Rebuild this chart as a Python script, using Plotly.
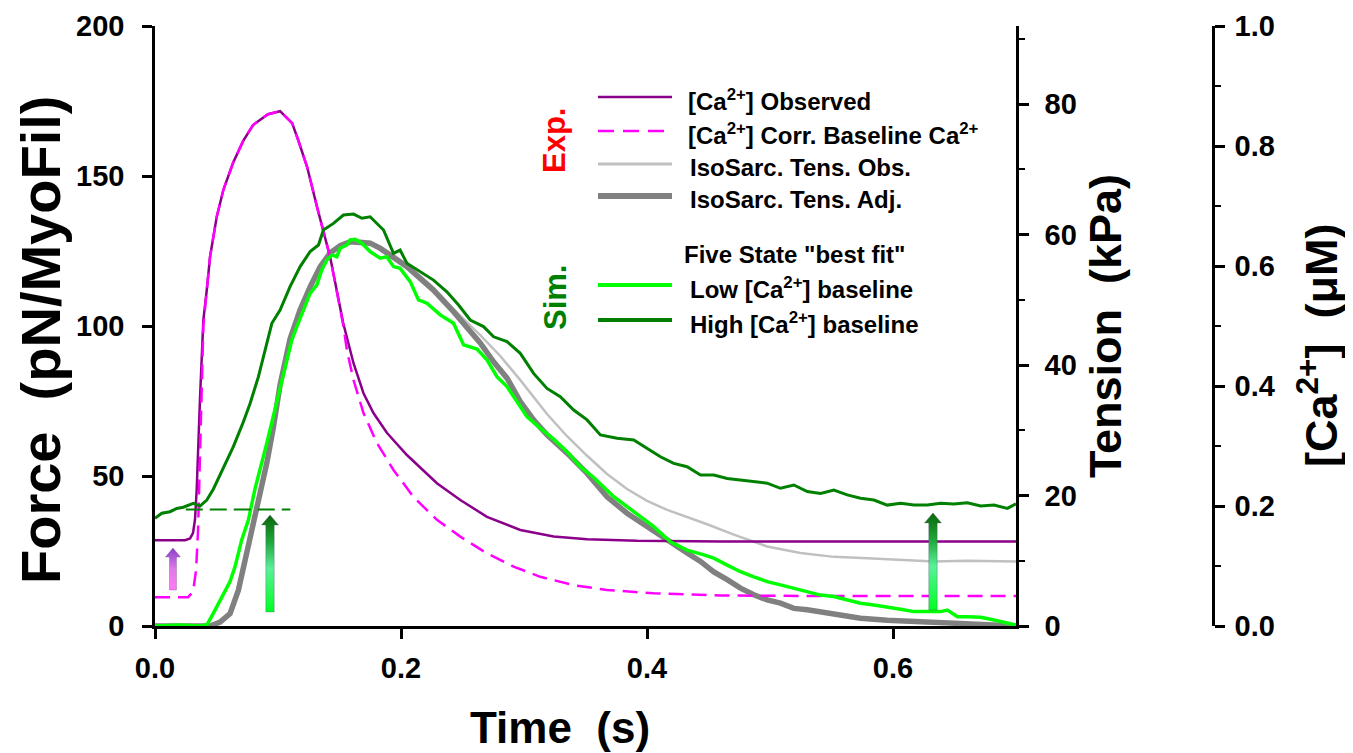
import plotly.graph_objects as go

# ---------------- data ----------------
# [Ca2+] observed (uM)
t_ca_obs = [0, 0.0244, 0.0285, 0.0309, 0.0325, 0.0339, 0.0366, 0.0393, 0.0421, 0.0448,
            0.0502, 0.0556, 0.0635, 0.0716, 0.0797, 0.0919, 0.1017, 0.1115, 0.1164, 0.1237,
            0.1318, 0.1424, 0.153, 0.1614, 0.1695, 0.1776, 0.1885, 0.2048, 0.2292, 0.2482,
            0.2699, 0.297, 0.3241, 0.3513, 0.3919, 0.4597, 0.7]
ca_obs = [0.143, 0.143, 0.146, 0.155, 0.177, 0.227, 0.38, 0.51, 0.56, 0.616,
          0.682, 0.727, 0.772, 0.808, 0.835, 0.853, 0.858, 0.838, 0.81, 0.765,
          0.698, 0.615, 0.505, 0.438, 0.388, 0.355, 0.322, 0.285, 0.238, 0.21,
          0.182, 0.16, 0.149, 0.1445, 0.142, 0.141, 0.141]

# [Ca2+] with corrected baseline (uM)
t_ca_corr = [0, 0.0269, 0.0309, 0.0334, 0.035, 0.0366, 0.0393, 0.0421, 0.0448, 0.0502,
             0.0556, 0.0635, 0.0716, 0.0797, 0.0919, 0.1017, 0.1115, 0.1164, 0.1237, 0.1318,
             0.1424, 0.153, 0.156, 0.1614, 0.1695, 0.1804, 0.1939, 0.2102, 0.2292, 0.2482,
             0.2699, 0.2915, 0.3133, 0.3404, 0.3675, 0.4055, 0.4597, 0.525, 0.7]
ca_corr = [0.048, 0.048, 0.057, 0.093, 0.16, 0.3, 0.5, 0.56, 0.616, 0.682,
           0.727, 0.772, 0.808, 0.835, 0.853, 0.858, 0.838, 0.81, 0.765, 0.698,
           0.615, 0.502, 0.46, 0.41, 0.355, 0.305, 0.26, 0.215, 0.177, 0.149,
           0.121, 0.099, 0.082, 0.068, 0.06, 0.0545, 0.051, 0.05, 0.05]

# Isosarcometric tension, observed (kPa)
t_tens_obs = [0, 0.0407, 0.0448, 0.0529, 0.061, 0.0678, 0.0746, 0.08, 0.0854, 0.0909,
              0.0963, 0.1017, 0.1098, 0.118, 0.1261, 0.1343, 0.1424, 0.1505, 0.1587, 0.1668,
              0.1749, 0.1831, 0.1939, 0.2048, 0.2156, 0.2264, 0.2427, 0.2536, 0.2644, 0.2807,
              0.297, 0.3187, 0.335, 0.3513, 0.3675, 0.3838, 0.4001, 0.4164, 0.4326, 0.4489,
              0.4706, 0.4977, 0.5248, 0.5519, 0.5791, 0.6062, 0.6333, 0.6604, 0.7]
tens_obs = [0, 0, 0, 0.6, 1.9, 5.5, 11.0, 15.5, 20.0, 25.0,
            30.5, 37.0, 44.0, 48.5, 52.0, 55.1, 57.2, 58.3, 59.0, 59.1,
            58.9, 58.2, 56.9, 55.4, 53.7, 51.9, 48.6, 46.6, 44.6, 41.4,
            37.7, 32.5, 29.1, 26.1, 23.3, 21.0, 19.2, 17.8, 16.7, 15.6,
            14.0, 12.2, 11.2, 10.6, 10.4, 10.2, 9.9, 10.0, 9.9]

# Isosarcometric tension, adjusted (kPa)
t_tens_adj = [0, 0.0407, 0.0448, 0.0529, 0.061, 0.0678, 0.0746, 0.08, 0.0854, 0.0909,
              0.0963, 0.1017, 0.1098, 0.118, 0.1261, 0.1343, 0.1424, 0.1505, 0.1587, 0.1668,
              0.1749, 0.1831, 0.1939, 0.2048, 0.2156, 0.2264, 0.2427, 0.2536, 0.2644, 0.2753,
              0.2862, 0.297, 0.3078, 0.3187, 0.335, 0.3513, 0.3675, 0.3838, 0.4001, 0.4164,
              0.4326, 0.4435, 0.4543, 0.4652, 0.476, 0.4868, 0.4977, 0.5085, 0.5194, 0.5303,
              0.5411, 0.5519, 0.5628, 0.5736, 0.5953, 0.617, 0.6496, 0.6821, 0.7]
tens_adj = [0, 0, 0, 0.6, 1.9, 5.5, 11.0, 15.5, 20.0, 25.0,
            30.5, 37.0, 44.0, 48.5, 52.0, 55.1, 57.2, 58.3, 58.9, 58.9,
            58.7, 57.9, 56.6, 55.1, 53.3, 51.5, 48.2, 45.7, 43.4, 40.5,
            38.0, 34.4, 31.6, 29.3, 26.5, 23.4, 19.8, 17.3, 15.2, 13.2,
            11.2, 9.9, 8.3, 7.1, 5.8, 4.8, 4.0, 3.5, 2.7, 2.5,
            2.2, 1.9, 1.4, 1.2, 0.9, 0.7, 0.4, 0.15, 0]

# Five-state simulation, low [Ca2+] baseline (pN/MyoFil)
t_sim_low = [0, 0.02, 0.0366, 0.0421, 0.0474, 0.0556, 0.061, 0.0651, 0.0705, 0.0759,
             0.0814, 0.0909, 0.099, 0.1058, 0.1112, 0.1153, 0.1207, 0.1261, 0.1316, 0.1356,
             0.1397, 0.1438, 0.1478, 0.1505, 0.156, 0.1587, 0.1627, 0.1682, 0.1749, 0.1831,
             0.1885, 0.1939, 0.1993, 0.2075, 0.2142, 0.2211, 0.2319, 0.2427, 0.2509, 0.2618,
             0.2699, 0.278, 0.2862, 0.2943, 0.3024, 0.3133, 0.3241, 0.335, 0.3458, 0.3567,
             0.373, 0.3838, 0.3946, 0.4055, 0.419, 0.4326, 0.4462, 0.4543, 0.4652, 0.476,
             0.4868, 0.4977, 0.5085, 0.5194, 0.5303, 0.5411, 0.5519, 0.5628, 0.5736, 0.5845,
             0.5953, 0.6062, 0.617, 0.6279, 0.6387, 0.6442, 0.6524, 0.6604, 0.6713, 0.6821,
             0.693, 0.7]
f_sim_low = [0, 0.3, 0, 0.3, 4.2, 10.9, 14.8, 19.8, 28.7, 35.3,
             45.9, 60.9, 74.2, 86.4, 95.3, 99.8, 105.3, 110.9, 113.7, 118.7,
             122.0, 123.7, 123.1, 125.9, 127.0, 128.7, 128.9, 127.6, 124.8, 122.6,
             123.1, 119.8, 119.2, 114.8, 108.7, 107.6, 103.7, 100.9, 93.7, 92.3,
             88.7, 83.1, 79.8, 74.8, 69.8, 65.9, 62.3, 58.1, 53.1, 49.5,
             43.1, 39.8, 36.4, 33.1, 28.1, 25.3, 23.7, 22.6, 20.3, 18.1,
             16.4, 14.8, 13.7, 12.6, 11.4, 10.3, 9.8, 8.7, 7.6, 7.0,
             6.4, 5.6, 4.8, 4.8, 4.8, 5.3, 3.1, 3.1, 2.9, 2.0,
             1.1, 0.3]

# Five-state simulation, high [Ca2+] baseline (pN/MyoFil)
t_sim_high = [0, 0.0055, 0.0122, 0.0177, 0.023, 0.0312, 0.0366, 0.0421, 0.0474, 0.0556,
              0.0637, 0.0718, 0.0773, 0.0841, 0.0895, 0.095, 0.1017, 0.1098, 0.118, 0.1261,
              0.1329, 0.1369, 0.1451, 0.1532, 0.1614, 0.1682, 0.1749, 0.1804, 0.1858, 0.1939,
              0.1993, 0.2048, 0.2156, 0.2264, 0.2373, 0.2468, 0.2563, 0.2671, 0.2753, 0.2862,
              0.297, 0.3078, 0.3187, 0.3295, 0.3404, 0.3513, 0.3621, 0.3757, 0.3892, 0.4001,
              0.4109, 0.4217, 0.4326, 0.4435, 0.4543, 0.4652, 0.476, 0.4868, 0.4977, 0.5085,
              0.5194, 0.5303, 0.5411, 0.5519, 0.5628, 0.5736, 0.5845, 0.5953, 0.6062, 0.617,
              0.6279, 0.6387, 0.6496, 0.6604, 0.6713, 0.6821, 0.693, 0.7]
f_sim_high = [35.9, 37.6, 38.1, 39.2, 39.6, 40.9, 40.0, 42.0, 45.6, 53.0,
              59.8, 68.0, 74.2, 83.1, 92.0, 100.9, 105.3, 113.1, 119.8, 124.8,
              127.0, 132.0, 134.2, 137.0, 137.3, 135.9, 136.4, 134.2, 132.0, 124.2,
              125.3, 120.9, 118.1, 115.3, 111.4, 107.0, 102.0, 99.8, 96.4, 94.8,
              90.9, 84.2, 79.2, 76.4, 72.0, 68.7, 63.7, 62.6, 62.0, 59.2,
              56.4, 54.2, 53.1, 50.3, 50.3, 49.2, 48.7, 48.1, 47.6, 45.9,
              47.0, 44.8, 44.2, 45.3, 43.7, 42.6, 42.0, 40.3, 40.9, 40.3,
              40.3, 40.9, 40.7, 41.1, 40.0, 40.3, 39.2, 40.7]

# dashed reference level (pN/MyoFil) and its time span
ref_level = [38.8, 38.8]
ref_t = [0.025, 0.11]

# arrows: time position, base and tip (pN/MyoFil)
arrow_t = [0.0146, 0.0935, 0.6325]
arrow_base = [12.0, 4.7, 5.3]
arrow_tip = [26.0, 37.0, 37.7]

# tick values
x_ticks = [0.0, 0.2, 0.4, 0.6]
force_ticks = [0, 50, 100, 150, 200]
tension_ticks = [0, 20, 40, 60, 80]
ca_ticks = [0.0, 0.2, 0.4, 0.6, 0.8, 1.0]

# ---------------- styling ----------------
FONT = "Arial, 'Liberation Sans', sans-serif"
PURPLE = "#8B008B"
MAGENTA = "#FF00FF"
LGRAY = "#C0C0C0"
DGRAY = "#808080"
LIME = "#00FF00"
DGREEN = "#008000"

# page geometry (px); the page body adds an 8px offset
OFF = 8
FIG_W, FIG_H = 1353 - OFF, 753 - OFF
PLOT_X0, PLOT_X1 = 155, 1213      # page px of plot area (Ca axis at right)
PLOT_Y0, PLOT_Y1 = 26, 626
X_RIGHT = 1016                    # page px of tension axis
L = PLOT_X0 - OFF
T = PLOT_Y0 - OFF
R = FIG_W - (PLOT_X1 - OFF)
B = FIG_H - (PLOT_Y1 - OFF)
PLOT_W = PLOT_X1 - PLOT_X0
PLOT_H = PLOT_Y1 - PLOT_Y0
XDOM = (X_RIGHT - PLOT_X0) / PLOT_W


def pxx(px):
    return (px - PLOT_X0) / PLOT_W


def pxy(py):
    return (PLOT_Y1 - py) / PLOT_H


fig = go.Figure()

# tension traces (bottom layer: yaxis)
fig.add_trace(go.Scatter(x=t_tens_obs, y=tens_obs, mode="lines", xaxis="x", yaxis="y",
                         line=dict(color=LGRAY, width=2.5), showlegend=False,
                         name="IsoSarc. Tens. Obs."))
fig.add_trace(go.Scatter(x=t_tens_adj, y=tens_adj, mode="lines", xaxis="x", yaxis="y",
                         line=dict(color=DGRAY, width=5.5), showlegend=False,
                         name="IsoSarc. Tens. Adj."))
# calcium traces (yaxis2)
fig.add_trace(go.Scatter(x=t_ca_obs, y=ca_obs, mode="lines", xaxis="x", yaxis="y2",
                         line=dict(color=PURPLE, width=2.5), showlegend=False,
                         name="[Ca2+] Observed"))
fig.add_trace(go.Scatter(x=t_ca_corr, y=ca_corr, mode="lines", xaxis="x", yaxis="y2",
                         line=dict(color=MAGENTA, width=2.5, dash="15px,8px"), showlegend=False,
                         name="[Ca2+] Corr. Baseline"))
# simulated force (top layer: yaxis3)
fig.add_trace(go.Scatter(x=t_sim_low, y=f_sim_low, mode="lines", xaxis="x", yaxis="y3",
                         line=dict(color=LIME, width=3.5), showlegend=False,
                         name="Low [Ca2+] baseline"))
fig.add_trace(go.Scatter(x=t_sim_high, y=f_sim_high, mode="lines", xaxis="x", yaxis="y3",
                         line=dict(color=DGREEN, width=3), showlegend=False,
                         name="High [Ca2+] baseline"))
fig.add_trace(go.Scatter(x=ref_t, y=ref_level, mode="lines", xaxis="x", yaxis="y3",
                         line=dict(color=DGREEN, width=2, dash="17px,7px"), showlegend=False,
                         hoverinfo="skip"))

# gradient arrows
t_per_px = 0.7 / (X_RIGHT - PLOT_X0)
f_per_px = 200 / PLOT_H
green_cs = [[0, "#00ff22"], [0.45, "#5af09a"], [0.72, "#1fa83a"], [1, "#0a660a"]]
arrow_styles = [
    dict(shaft=3.5, head=7.5, hl=9, cs=[[0, "#ff7af2"], [0.5, "#e07ae8"], [1, "#8a3fc8"]]),
    dict(shaft=4.2, head=8.5, hl=10, cs=green_cs),
    dict(shaft=4.2, head=8.5, hl=10, cs=green_cs),
]
for t0, fb, ft, st in zip(arrow_t, arrow_base, arrow_tip, arrow_styles):
    sw = st["shaft"] * t_per_px
    hw = st["head"] * t_per_px
    neck = ft - st["hl"] * f_per_px
    xs = [t0 - sw, t0 + sw, t0 + sw, t0 + hw, t0, t0 - hw, t0 - sw, t0 - sw]
    ys = [fb, fb, neck, neck, ft, neck, neck, fb]
    fig.add_trace(go.Scatter(x=xs, y=ys, mode="lines", xaxis="x", yaxis="y3",
                             fill="toself", line=dict(width=0.6, color="rgba(90,70,130,0.55)"),
                             fillgradient=dict(type="vertical", colorscale=st["cs"], start=fb, stop=ft),
                             showlegend=False, hoverinfo="skip"))

tickfont = dict(family=FONT, size=29, color="black", weight="bold")
titlefont_big = dict(family=FONT, size=45, color="black", weight="bold")
axis_common = dict(showline=True, linecolor="black", linewidth=2.5, ticks="outside",
                   ticklen=10, tickwidth=2.5, tickcolor="black", showgrid=False,
                   zeroline=False, tickfont=tickfont, automargin=False)

fig.update_layout(
    width=FIG_W, height=FIG_H,
    margin=dict(l=L, r=R, t=T, b=B),
    paper_bgcolor="white", plot_bgcolor="white",
    showlegend=False,
    xaxis=dict(domain=[0, XDOM], range=[0, 0.7], anchor="y", tickvals=x_ticks,
               tickformat=".1f", ticklabelstandoff=4, **axis_common),
    yaxis=dict(range=[0, 92], side="right", anchor="x", tickvals=tension_ticks,
               minor=dict(dtick=10, tick0=0, ticks="outside", ticklen=6, tickwidth=2, tickcolor="black"),
               ticklabelstandoff=10,
               title=dict(text="Tension \u00a0(kPa)", font=titlefont_big, standoff=14),
               **axis_common),
    yaxis2=dict(range=[0, 1], side="right", overlaying="y", anchor="free", position=1.0,
                tickvals=ca_ticks, tickformat=".1f", ticklabelstandoff=4,
                minor=dict(dtick=0.1, tick0=0, ticks="outside", ticklen=6, tickwidth=2, tickcolor="black"),
                **axis_common),
    yaxis3=dict(range=[0, 200], side="left", overlaying="y", anchor="x", tickvals=force_ticks,
                ticklabelstandoff=12, **axis_common),
)

# axis titles placed as in the reference
fig.add_annotation(text="Time \u00a0(s)", xref="paper", yref="paper", x=pxx(560), y=pxy(727),
                   xanchor="center", yanchor="middle", showarrow=False,
                   font=dict(family=FONT, size=44, color="black", weight="bold"))
fig.add_annotation(text="Force \u00a0(pN/MyoFil)", xref="paper", yref="paper", x=pxx(40), y=pxy(340),
                   xanchor="center", yanchor="middle", textangle=-90, showarrow=False,
                   font=dict(family=FONT, size=56, color="black", weight="bold"))
fig.add_annotation(text="[Ca<sup>2+</sup>] \u00a0(\u03bcM)", xref="paper", yref="paper", x=pxx(1318), y=pxy(346),
                   xanchor="center", yanchor="middle", textangle=-90, showarrow=False,
                   font=titlefont_big)

# ---------------- hand-built legend ----------------
legend_rows = [
    ("[Ca<sup>2+</sup>] Observed", PURPLE, 2.5, "solid", 97, 686),
    ("[Ca<sup>2+</sup>] Corr. Baseline Ca<sup>2+</sup>", MAGENTA, 2.5, "16px,9px", 131, 686),
    ("IsoSarc. Tens. Obs.", LGRAY, 3, "solid", 164, 688),
    ("IsoSarc. Tens. Adj.", DGRAY, 6, "solid", 196, 688),
    ("Low [Ca<sup>2+</sup>] baseline", LIME, 4, "solid", 285, 688),
    ("High [Ca<sup>2+</sup>] baseline", DGREEN, 4, "solid", 320, 688),
]
legfont = dict(family=FONT, size=24, color="black", weight="bold")
for text, col, lw, dash, py, tx in legend_rows:
    fig.add_shape(type="line", xref="paper", yref="paper",
                  x0=pxx(598), x1=pxx(672), y0=pxy(py), y1=pxy(py),
                  line=dict(color=col, width=lw, dash=dash))
    fig.add_annotation(text=text, xref="paper", yref="paper", x=pxx(tx), y=pxy(py + 3),
                       xanchor="left", yanchor="middle", showarrow=False, font=legfont)
fig.add_annotation(text="Five State \"best fit\"", xref="paper", yref="paper",
                   x=pxx(682), y=pxy(254), xanchor="left", yanchor="middle",
                   showarrow=False, font=legfont)

# group labels
fig.add_annotation(text="Exp.", xref="paper", yref="paper", x=pxx(554), y=pxy(141),
                   xanchor="center", yanchor="middle", textangle=-90, showarrow=False,
                   font=dict(family=FONT, size=31, color="#FF0000", weight="bold"))
fig.add_annotation(text="Sim.", xref="paper", yref="paper", x=pxx(555), y=pxy(298),
                   xanchor="center", yanchor="middle", textangle=-90, showarrow=False,
                   font=dict(family=FONT, size=31, color=DGREEN, weight="bold"))

fig.write_html("out.html")
